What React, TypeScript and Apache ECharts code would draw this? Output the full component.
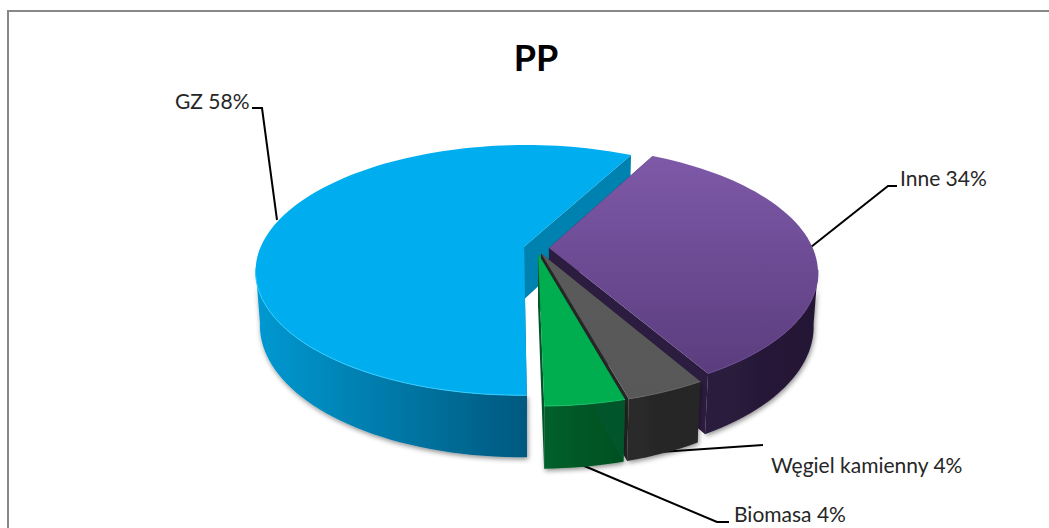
import React, { useEffect, useRef } from "react";
import * as echarts from "echarts";

const TITLE = "PP";
const sliceNames = ["GZ", "Inne", "Węgiel kamienny", "Biomasa"];
const sliceShares = [58, 34, 4, 4];
const START_ANGLE = 179;

const FONT = "Lato, 'Open Sans', sans-serif";

// perspective model of the tilted, exploded disc
const GX = 536.3, GY = 248, AX = 263.8, BY = 121.2, PERSP = 0.188, DEPTH = 53.6, DEPTH_W = 0.015, EXPLODE = 0.048;

const styles = [
  { top: ["#00aeef", "#00aeef"], wall: ["#0099d2", "#00597e"], cut: "#0082b0", cutStart: "#00597e", rim: "#35ccff" },
  { top: ["#7e59a8", "#5b3d7e"], wall: ["#2b1b3e", "#241733"], cut: "#2c1c40", cutStart: "#2c1c40", rim: "#6b4a92" },
  { top: ["#5a5a5a", "#585858"], wall: ["#2a2a2a", "#252525"], cut: "#262626", cutStart: "#262626", rim: "#6a6a6a" },
  { top: ["#00ae50", "#00ad4f"], wall: ["#00602c", "#004f1f"], cut: "#00562a", cutStart: "#00562a", rim: "#18c068" },
];

const labelLayout = [
  { text: "GZ 58%", x: 175, y: 100, leader: [[252, 108], [262, 108], [277, 220]] },
  { text: "Inne 34%", x: 900, y: 177, leader: [[897, 186], [888, 186], [811, 247]] },
  { text: "Węgiel kamienny 4%", x: 771, y: 464, leader: [[763, 445], [660, 452]] },
  { text: "Biomasa 4%", x: 734, y: 513, leader: [[729, 522], [717, 522], [582, 465]] },
];

function project(u: number, v: number, h: number) {
  const w = 1 - PERSP * v + DEPTH_W * h;
  return [GX + (AX * u) / w, GY + (BY * v + DEPTH * h) / w];
}
const rad = (d: number) => (d * Math.PI) / 180;

function renderSlice(params: any, api: any) {
  const i = params.dataIndex;
  const total = sliceShares.reduce((a, b) => a + b, 0);
  const before = sliceShares.slice(0, i).reduce((a, b) => a + b, 0);
  let a0 = START_ANGLE + (before / total) * 360;
  if (a0 >= 360) a0 -= 360;
  const a1 = a0 + (api.value(0) / total) * 360;
  const mid = (a0 + a1) / 2;
  const ou = EXPLODE * Math.sin(rad(mid));
  const ov = -EXPLODE * Math.cos(rad(mid));
  const pt = (deg: number, h: number) => project(ou + Math.sin(rad(deg)), ov - Math.cos(rad(deg)), h);
  const arc = (from: number, to: number, h: number) => {
    const n = Math.max(2, Math.ceil(Math.abs(to - from) / 2));
    const out: number[][] = [];
    for (let k = 0; k <= n; k++) out.push(pt(from + ((to - from) * k) / n, h));
    return out;
  };
  const apexTop = project(ou, ov, 0);
  const apexBottom = project(ou, ov, 1);
  const s = styles[i];
  const children: any[] = [];
  const shadow = { shadowBlur: 5, shadowColor: "rgba(0,0,0,0.45)", shadowOffsetX: 1, shadowOffsetY: 2 };

  // outer wall: only the part turned towards the viewer
  const w0 = Math.max(a0, 100);
  const w1 = Math.min(a1, 260);
  if (w1 > w0) {
    children.push({
      type: "polygon",
      shape: { points: [...arc(w0, w1, 0), ...arc(w1, w0, 1)] },
      style: {
        fill: new echarts.graphic.LinearGradient(0, 0, 1, 0, [
          { offset: 0, color: s.wall[0] },
          { offset: 1, color: s.wall[1] },
        ]),
        ...shadow,
      },
    });
  }
  // cut faces
  children.push({
    type: "polygon",
    shape: { points: [apexTop, pt(a0, 0), pt(a0, 1), apexBottom] },
    style: { fill: s.cutStart },
  });
  children.push({
    type: "polygon",
    shape: { points: [apexTop, pt(a1, 0), pt(a1, 1), apexBottom] },
    style: { fill: s.cut },
  });
  // top face
  children.push({
    type: "polygon",
    shape: { points: [apexTop, ...arc(a0, a1, 0)] },
    style: {
      fill: new echarts.graphic.LinearGradient(0, 0, 0, 1, [
        { offset: 0, color: s.top[0] },
        { offset: 1, color: s.top[1] },
      ]),
    },
  });
  // highlight along the front rim
  if (w1 > w0) {
    children.push({
      type: "polyline",
      shape: { points: arc(w0, w1, 0) },
      style: { fill: "none", stroke: s.rim, lineWidth: 1 },
    });
  }
  return { type: "group", children };
}

export default function App() {
  const ref = useRef<HTMLDivElement>(null);
  useEffect(() => {
    document.body.style.margin = "0";
    const chart = echarts.init(ref.current!, null, { renderer: "svg" });
    chart.setOption({
      animation: false,
      backgroundColor: "#ffffff",
      title: {
        text: TITLE,
        left: 531,
        top: 34,
        textAlign: "center",
        textStyle: { fontFamily: FONT, fontSize: 36, fontWeight: "bold", color: "#000000" },
      },
      graphic: [
        {
          type: "polyline",
          shape: { points: [[8, 528], [8, 11], [1049, 11]] },
          style: { fill: "none", stroke: "#888888", lineWidth: 2 },
        },
        ...labelLayout.map((l) => ({
          type: "polyline",
          shape: { points: l.leader },
          style: { fill: "none", stroke: "#000000", lineWidth: 2 },
        })),
        ...labelLayout.map((l) => ({
          type: "text",
          x: l.x,
          y: l.y,
          style: { text: l.text, fontFamily: FONT, fontSize: 21, fill: "#262626", verticalAlign: "middle" },
        })),
      ],
      series: [
        {
          type: "custom",
          coordinateSystem: "none",
          name: TITLE,
          silent: true,
          clip: false,
          renderItem: renderSlice,
          data: sliceShares.map((v, i) => ({ name: sliceNames[i], value: [v] })),
          encode: { value: 0 },
        },
      ],
    });
    return () => chart.dispose();
  }, []);
  return <div ref={ref} style={{ position: "absolute", left: 0, top: 0, width: 1049, height: 528 }} />;
}
